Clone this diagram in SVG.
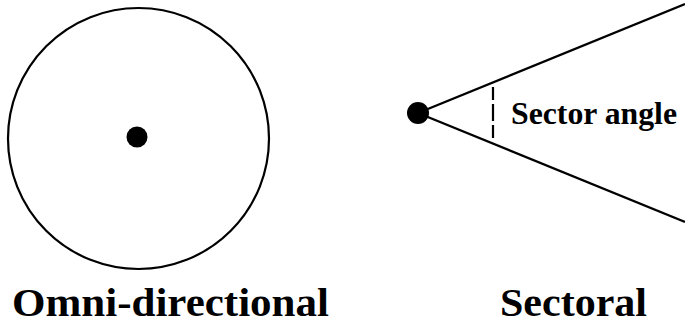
<svg xmlns="http://www.w3.org/2000/svg" width="685" height="324" viewBox="0 0 685 324">
<style>
.ln{fill:none;stroke:#000;stroke-width:2.2}
.dot{fill:#000}
.lbl{font-family:'Liberation Serif',Tinos,'Times New Roman',Times,serif;font-weight:700;fill:#000}
</style>
<rect width="685" height="324" fill="#fff"/>
<g id="omni">
<circle class="ln" cx="138.5" cy="138.5" r="130.5" stroke-width="3"/>
<circle class="dot" cx="137" cy="137" r="10.5"/>
<text class="lbl" x="12" y="316" font-size="39" textLength="317" lengthAdjust="spacingAndGlyphs">Omni-directional</text>
</g>
<g id="sectoral">
<circle class="dot" cx="418" cy="113" r="11"/>
<text class="lbl" x="500" y="316" font-size="39" textLength="147" lengthAdjust="spacingAndGlyphs">Sectoral</text>
<text class="lbl" x="511" y="124" font-size="31.5" textLength="166" lengthAdjust="spacingAndGlyphs">Sector angle</text>
</g>
<g id="connectors">
<line class="ln" x1="418" y1="113" x2="685" y2="4"/>
<line class="ln" x1="418" y1="113" x2="685" y2="222"/>
<line class="ln" x1="493" y1="87" x2="493" y2="138" stroke-dasharray="13 4 17 4 13"/>
</g>
</svg>
